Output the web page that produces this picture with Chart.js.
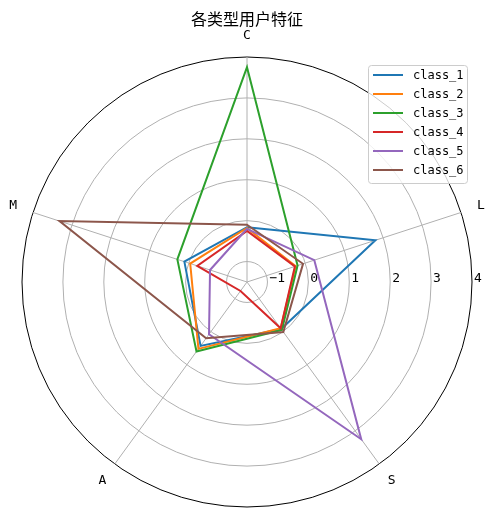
<!DOCTYPE html>
<html>
<head>
<meta charset="utf-8">
<script src="https://cdn.jsdelivr.net/npm/chart.js@4"></script>
<style>
	html, body { margin: 0; padding: 0; background: #fff; }
	#wrap { width: 494px; height: 520px; }
</style>
</head>
<body>
<div id="wrap"><canvas id="chart"></canvas></div>
<script>
// axis order as it appears clockwise from the top
const categories = [`C`, `L`, `S`, `A`, `M`];
const seriesNames = [`class_1`, `class_2`, `class_3`, `class_4`, `class_5`, `class_6`];
const class1 = [-0.16, 1.80, -0.08, 0.43, 0.11];
const class2 = [-0.18, -0.25, -0.10, 0.52, -0.04];
const class3 = [3.75, -0.20, -0.05, 0.60, 0.29];
const class4 = [-0.25, -0.27, -0.10, -1.23, -0.22];
const class5 = [-0.20, 0.23, 3.25, 0.08, -0.55];
const class6 = [-0.10, -0.06, 0.01, 0.20, 3.32];
const tickValues = [-1, 0, 1, 2, 3, 4];
const radialMin = -1.5;
const radialMax = 4;

const seriesValues = [class1, class2, class3, class4, class5, class6];
const colors = [`#1f77b4`, `#ff7f0e`, `#2ca02c`, `#d62728`, `#9467bd`, `#8c564b`];
const latinFont = `"DejaVu Sans Mono", monospace`;

function formatTick(v) {
	return v < 0 ? `\u2212${Math.abs(v)}` : `${v}`;
}

// point labels, radial tick labels and the boxed legend, drawn like matplotlib does
const polarDecor = {
	id: `polarDecor`,
	afterDraw(chart) {
		const ctx = chart.ctx;
		const scale = chart.scales.r;
		ctx.save();
		ctx.fillStyle = `#000`;

		// category labels just outside the outer ring
		ctx.font = `13px ${latinFont}`;
		ctx.textAlign = `center`;
		ctx.textBaseline = `middle`;
		categories.forEach((label, index) => {
			const pos = scale.getPointPosition(index, scale.drawingArea + 21);
			ctx.fillText(label, pos.x, pos.y);
		});

		// radial tick labels along the horizontal to the right
		ctx.font = `13px ${latinFont}`;
		ctx.textAlign = `left`;
		ctx.textBaseline = `alphabetic`;
		tickValues.forEach(v => {
			const dist = scale.getDistanceFromCenterForValue(v);
			ctx.fillText(formatTick(v), scale.xCenter + dist + 2, scale.yCenter);
		});

		// legend
		const box = {x: 368.5, y: 65.5, w: 99, h: 118};
		ctx.beginPath();
		ctx.roundRect(box.x, box.y, box.w, box.h, 3);
		ctx.fillStyle = `rgba(255,255,255,0.8)`;
		ctx.fill();
		ctx.strokeStyle = `#cccccc`;
		ctx.lineWidth = 1;
		ctx.stroke();

		ctx.font = `12px ${latinFont}`;
		ctx.textBaseline = `middle`;
		chart.data.datasets.forEach((ds, i) => {
			const y = 75 + i * 19;
			ctx.beginPath();
			ctx.moveTo(373, y);
			ctx.lineTo(403, y);
			ctx.strokeStyle = ds.borderColor;
			ctx.lineWidth = 2;
			ctx.stroke();
			ctx.fillStyle = `#000`;
			ctx.fillText(ds.label, 413, y + 1);
		});
		ctx.restore();
	}
};

const datasets = seriesNames.map((name, i) => ({
	label: name,
	data: seriesValues[i],
	borderColor: colors[i],
	backgroundColor: colors[i],
	borderWidth: 2,
	fill: false,
	pointRadius: 0,
	pointHoverRadius: 0,
	tension: 0,
	order: seriesNames.length - i // later series on top, as in the source
}));

new Chart(document.getElementById(`chart`), {
	type: `radar`,
	data: {
		labels: categories,
		datasets: datasets
	},
	options: {
		responsive: true,
		maintainAspectRatio: false,
		animation: false,
		layout: {
			padding: {left: 22, right: 22, top: 0, bottom: 13}
		},
		elements: {
			line: {borderJoinStyle: `miter`}
		},
		scales: {
			r: {
				min: radialMin,
				max: radialMax,
				afterBuildTicks: axis => {
					axis.ticks = tickValues.map(v => ({value: v}));
				},
				ticks: {
					display: false
				},
				pointLabels: {
					display: false
				},
				grid: {
					circular: true,
					color: c => (c.tick && c.tick.value === radialMax ? `#000000` : `#b0b0b0`),
					lineWidth: 1
				},
				angleLines: {
					color: `#b0b0b0`,
					lineWidth: 1
				}
			}
		},
		plugins: {
			legend: {display: false},
			tooltip: {enabled: false},
			title: {
				display: true,
				text: `各类型用户特征`,
				color: `#000`,
				font: {family: `"Noto Sans CJK SC"`, size: 16, weight: `normal`, lineHeight: 1.2},
				padding: {top: 9, bottom: 28.8}
			}
		}
	},
	plugins: [polarDecor]
});
</script>
</body>
</html>
